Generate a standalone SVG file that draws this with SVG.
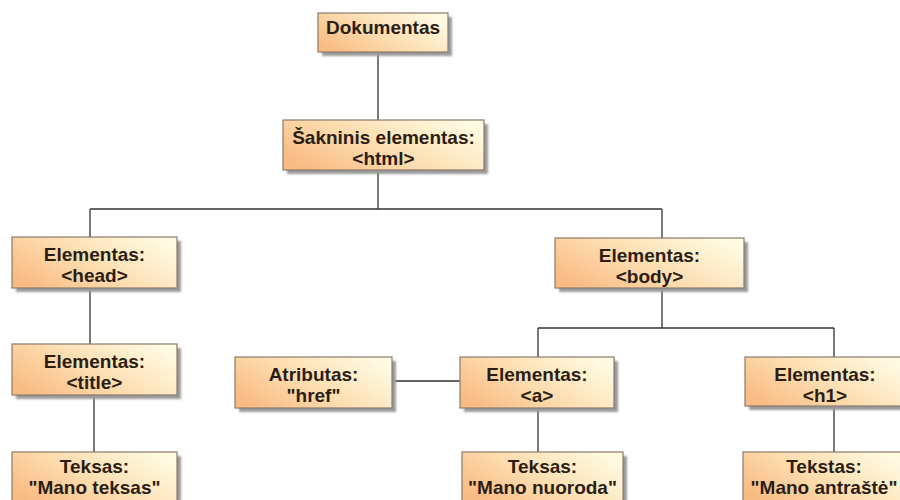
<svg xmlns="http://www.w3.org/2000/svg" width="900" height="500" viewBox="0 0 900 500">
  <defs>
    <linearGradient id="nodeFill" x1="0" y1="0.75" x2="1" y2="0.25">
      <stop offset="0" stop-color="#f9bb84"/>
      <stop offset="0.45" stop-color="#fddcae"/>
      <stop offset="1" stop-color="#fffbe2"/>
    </linearGradient>
    <filter id="soft" x="-10%" y="-20%" width="130%" height="160%">
      <feGaussianBlur stdDeviation="1.2"/>
    </filter>
    <style>
      .shadow { fill: #9a9a9a; filter: url(#soft); }
      .box { fill: url(#nodeFill); stroke: #8c7b6b; stroke-width: 1.2; }
      .label { font-family: "Liberation Sans", Arial, sans-serif; font-weight: bold; font-size: 19px; fill: #2a1e14; text-anchor: middle; }
      .wire { stroke: #333; stroke-width: 1.3; fill: none; }
    </style>
  </defs>
  <rect width="900" height="500" fill="#fff"/>

  <g id="connectors">
    <path class="wire" d="M378 52 V120"/>
    <path class="wire" d="M378 170 V209 M90 209 H662 M90 209 V238 M662 209 V238"/>
    <path class="wire" d="M90 288 V344"/>
    <path class="wire" d="M94 395 V452"/>
    <path class="wire" d="M662 288 V328 M538 328 H834 M538 328 V357 M834 328 V357"/>
    <path class="wire" d="M392 381 H460"/>
    <path class="wire" d="M538 408 V452"/>
    <path class="wire" d="M834 406 V452"/>
  </g>

  <g id="dokumentas">
    <rect class="shadow" x="322" y="17" width="130" height="39"/>
    <rect class="box" x="318" y="13" width="130" height="39"/>
    <text class="label" x="383" y="34">Dokumentas</text>
  </g>

  <g id="saknis">
    <rect class="shadow" x="287" y="124" width="201" height="50"/>
    <rect class="box" x="283" y="120" width="201" height="50"/>
    <text class="label" x="383.5" y="144">Šakninis elementas:</text>
    <text class="label" x="383.5" y="165">&lt;html&gt;</text>
  </g>

  <g id="head">
    <rect class="shadow" x="16" y="241" width="165" height="51"/>
    <rect class="box" x="12" y="237" width="165" height="51"/>
    <text class="label" x="94.5" y="261">Elementas:</text>
    <text class="label" x="94.5" y="282">&lt;head&gt;</text>
  </g>

  <g id="body">
    <rect class="shadow" x="559" y="242" width="189" height="50"/>
    <rect class="box" x="555" y="238" width="189" height="50"/>
    <text class="label" x="649.5" y="262">Elementas:</text>
    <text class="label" x="649.5" y="283">&lt;body&gt;</text>
  </g>

  <g id="title">
    <rect class="shadow" x="16" y="348" width="165" height="51"/>
    <rect class="box" x="12" y="344" width="165" height="51"/>
    <text class="label" x="94.5" y="368">Elementas:</text>
    <text class="label" x="94.5" y="389">&lt;title&gt;</text>
  </g>

  <g id="atributas">
    <rect class="shadow" x="239" y="361" width="157" height="51"/>
    <rect class="box" x="235" y="357" width="157" height="51"/>
    <text class="label" x="313.5" y="381">Atributas:</text>
    <text class="label" x="313.5" y="402">"href"</text>
  </g>

  <g id="a">
    <rect class="shadow" x="464" y="361" width="154" height="51"/>
    <rect class="box" x="460" y="357" width="154" height="51"/>
    <text class="label" x="537" y="381">Elementas:</text>
    <text class="label" x="537" y="402">&lt;a&gt;</text>
  </g>

  <g id="h1">
    <rect class="shadow" x="749" y="361" width="160" height="49"/>
    <rect class="box" x="745" y="357" width="160" height="49"/>
    <text class="label" x="825" y="381">Elementas:</text>
    <text class="label" x="825" y="402">&lt;h1&gt;</text>
  </g>

  <g id="teksas-title">
    <rect class="shadow" x="16" y="456" width="165" height="51"/>
    <rect class="box" x="12" y="452" width="165" height="51"/>
    <text class="label" x="94.5" y="473">Teksas:</text>
    <text class="label" x="94.5" y="494">"Mano teksas"</text>
  </g>

  <g id="teksas-a">
    <rect class="shadow" x="466" y="456" width="161" height="51"/>
    <rect class="box" x="462" y="452" width="161" height="51"/>
    <text class="label" x="542.5" y="473">Teksas:</text>
    <text class="label" x="542.5" y="494">"Mano nuoroda"</text>
  </g>

  <g id="tekstas-h1">
    <rect class="shadow" x="747" y="456" width="162" height="51"/>
    <rect class="box" x="743" y="452" width="162" height="51"/>
    <text class="label" x="824" y="473">Tekstas:</text>
    <text class="label" x="824" y="494">"Mano antraštė"</text>
  </g>
</svg>
